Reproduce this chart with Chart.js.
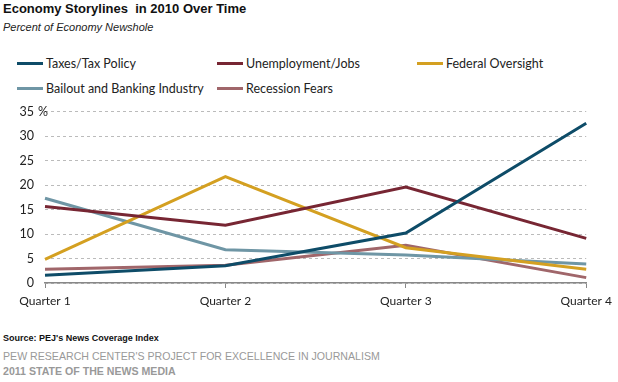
<!DOCTYPE html>
<html>
<head>
<meta charset="utf-8">
<script src="https://cdn.jsdelivr.net/npm/chart.js@4"></script>
<style>
  body { margin: 0; width: 618px; height: 382px; background: #fff; position: relative; overflow: hidden; font-family: "Liberation Sans", Arial, sans-serif; }
  .t { position: absolute; white-space: nowrap; }
  #titulo { left: 3px; top: 1px; font-size: 13px; font-weight: bold; color: #111; }
  #sub { left: 3px; top: 21px; font-size: 11px; font-style: italic; color: #222; }
  .leg { position: absolute; font-family: Lato, sans-serif; font-size: 12.5px; color: #222; white-space: nowrap; }
  .leg span { display: inline-block; width: 26px; height: 3px; vertical-align: middle; margin-right: 3px; position: relative; top: -1px; }
  #fonte { left: 3px; top: 333px; font-size: 9px; font-weight: bold; color: #111; }
  #pew { left: 3px; top: 350px; font-size: 10.6px; color: #999; }
  #ano { left: 3px; top: 365px; font-size: 10.6px; font-weight: bold; color: #999; }
  #wrap { position: absolute; left: 0; top: 93px; width: 618px; height: 222px; }
</style>
</head>
<body>
<div class="t" id="titulo">Economy Storylines&nbsp; in 2010 Over Time</div>
<div class="t" id="sub">Percent of Economy Newshole</div>
<div id="legenda"></div>
<div id="wrap"><canvas id="grafico"></canvas></div>
<div class="t" id="fonte">Source: PEJ's News Coverage Index</div>
<div class="t" id="pew">PEW RESEARCH CENTER'S PROJECT FOR EXCELLENCE IN JOURNALISM</div>
<div class="t" id="ano">2011 STATE OF THE NEWS MEDIA</div>
<script>
const quarters = ['Quarter 1', 'Quarter 2', 'Quarter 3', 'Quarter 4'];
const taxes = [1.6, 3.5, 10.2, 32.6];
const unemployment = [15.6, 11.8, 19.6, 9.1];
const federal = [4.8, 21.7, 7.2, 2.8];
const bailout = [17.3, 6.8, 5.7, 3.9];
const recession = [2.8, 3.6, 7.7, 1.1];
const yTicks = [0, 5, 10, 15, 20, 25, 30, 35];

const series = [
    { label: 'Taxes/Tax Policy', data: taxes, color: '#0e4c68', x: 17, y: 56 },
    { label: 'Unemployment/Jobs', data: unemployment, color: '#772633', x: 217, y: 56 },
    { label: 'Federal Oversight', data: federal, color: '#d4a021', x: 417, y: 56 },
    { label: 'Bailout and Banking Industry', data: bailout, color: '#6f96a5', x: 17, y: 81 },
    { label: 'Recession Fears', data: recession, color: '#a0666a', x: 217, y: 81 }
];

// legenda em html
const legenda = document.getElementById('legenda');
series.forEach(s => {
    const d = document.createElement('div');
    d.className = 'leg';
    d.style.left = s.x + 'px';
    d.style.top = s.y + 'px';
    d.innerHTML = '<span style="background:' + s.color + '"></span>' + s.label;
    legenda.appendChild(d);
});

// desenha o "%" depois do 35
const percentPlugin = {
    id: 'percent',
    afterDraw(chart) {
        const y = chart.scales.y;
        const ctx = chart.ctx;
        ctx.save();
        ctx.font = '12.5px Lato';
        ctx.fillStyle = '#222';
        ctx.textBaseline = 'middle';
        ctx.fillText('%', 38, y.getPixelForValue(35));
        ctx.restore();
    }
};

new Chart(document.getElementById('grafico'), {
    type: 'line',
    data: {
        labels: quarters,
        datasets: series.map(s => ({
            label: s.label,
            data: s.data,
            borderColor: s.color,
            backgroundColor: s.color,
            borderWidth: 3,
            pointRadius: 0,
            tension: 0
        }))
    },
    options: {
        responsive: true,
        maintainAspectRatio: false,
        animation: false,
        layout: { padding: { top: 10, right: 30, left: 0, bottom: 0 } },
        plugins: { legend: { display: false }, tooltip: { enabled: false } },
        scales: {
            x: {
                offset: false,
                grid: { drawOnChartArea: false, drawTicks: true, tickLength: 5, color: '#888', offset: false },
                border: { display: true, color: '#888', width: 1.5 },
                ticks: { color: '#222', font: { family: 'Lato', size: 12 }, padding: 6, maxRotation: 0 },
                afterFit(scale) { scale.height = 32; }
            },
            y: {
                min: 0,
                max: 35,
                afterBuildTicks(scale) { scale.ticks = yTicks.map(v => ({ value: v })); },
                grid: { color: '#bbb', lineWidth: 1, drawTicks: false, borderDash: [3, 3] },
                border: { display: true, width: 0, color: 'rgba(0,0,0,0)', dash: [3, 3] },
                ticks: { color: '#222', font: { family: 'Lato', size: 12.5 }, padding: 11 },
                afterFit(scale) { scale.width = 45; }
            }
        }
    },
    plugins: [percentPlugin]
});
</script>
</body>
</html>
